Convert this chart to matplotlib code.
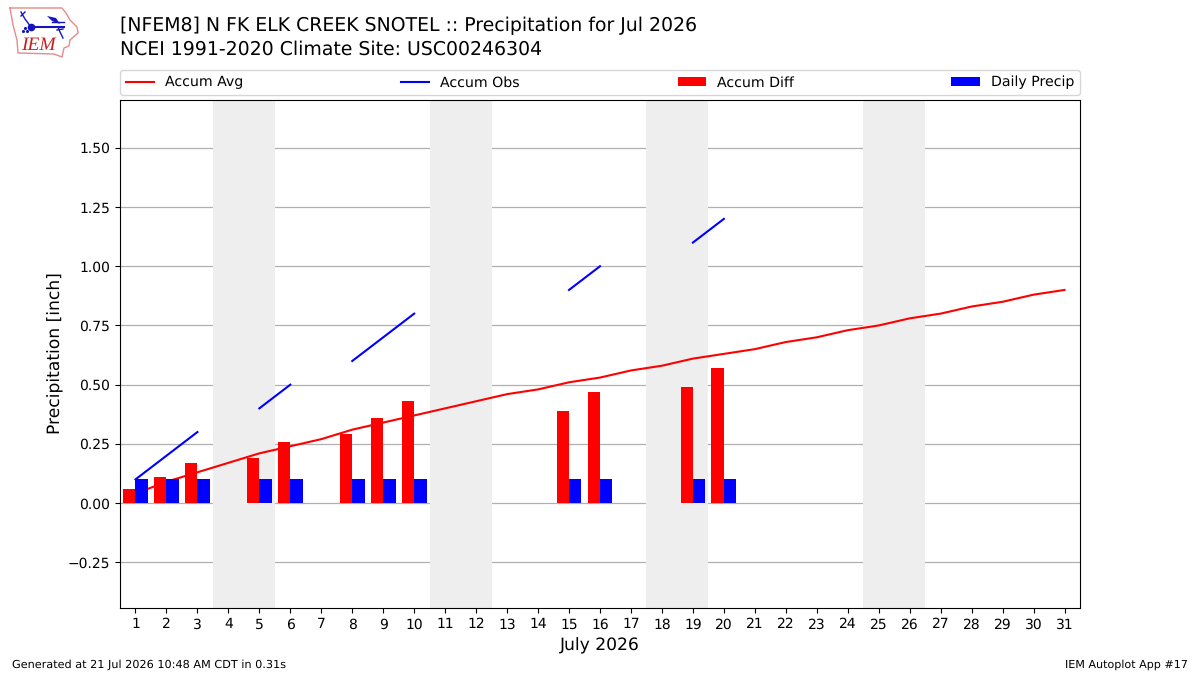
import matplotlib
matplotlib.use('Agg')
import matplotlib.pyplot as plt
import numpy as np

plt.rcParams['text.hinting'] = 'no_hinting'
plt.rcParams['text.hinting_factor'] = 8

days = list(range(1, 32))
accum_avg = [0.04, 0.09, 0.13, 0.17, 0.21, 0.24, 0.27, 0.31, 0.34, 0.37, 0.40,
             0.43, 0.46, 0.48, 0.51, 0.53, 0.56, 0.58, 0.61, 0.63, 0.65, 0.68,
             0.70, 0.73, 0.75, 0.78, 0.80, 0.83, 0.85, 0.88, 0.90]
nan = float('nan')
accum_obs = [0.1, 0.2, 0.3, nan, 0.4, 0.5, nan, 0.6, 0.7, 0.8, nan, nan, nan,
             nan, 0.9, 1.0, nan, nan, 1.1, 1.2, nan, nan, nan, nan, nan, nan,
             nan, nan, nan, nan, nan]
precip_days = [1, 2, 3, 5, 6, 8, 9, 10, 15, 16, 19, 20]
daily_precip = [0.1] * 12
accum_diff = [0.06, 0.11, 0.17, 0.19, 0.26, 0.29, 0.36, 0.43, 0.39, 0.47, 0.49, 0.57]
weekends = [(3.5, 5.5), (10.5, 12.5), (17.5, 19.5), (24.5, 26.5)]
yticks = [-0.25, 0, 0.25, 0.5, 0.75, 1.0, 1.25, 1.5]

# logo outline and vane, in logo pixels
state_x = [10, 37, 62, 66, 70, 77, 78, 70, 69, 64, 62, 54, 18, 17, 13, 10]
state_y = [8, 8, 8, 13, 20, 27, 33, 40, 46, 48, 57, 54, 53, 40, 25, 8]

fig = plt.figure(figsize=(12, 6.75), dpi=100)
ax = fig.add_axes([120 / 1200, 1 - 608 / 675, 960 / 1200, 508 / 675])

for start, end in weekends:
    ax.axvspan(start, end, color='#eeeeee', zorder=1, lw=0)

ax.bar([d - 0.2 for d in precip_days], accum_diff, width=0.4, color='red',
       label='Accum Diff', zorder=3)
ax.bar([d + 0.2 for d in precip_days], daily_precip, width=0.4, color='blue',
       label='Daily Precip', zorder=3)
ax.plot(days, accum_avg, color='red', lw=1.5, label='Accum Avg', zorder=2)
ax.plot(days, accum_obs, color='blue', lw=1.5, label='Accum Obs', zorder=2)

ax.set_xlim(0.5, 31.5)
ax.set_ylim(-0.443, 1.702)
ax.set_xticks(days)
ax.set_yticks(yticks)
ax.tick_params(axis='both', labelsize=10)
ax.grid(True, axis='y', color='#b0b0b0', lw=0.9, zorder=1)
ax.set_axisbelow(True)
ax.set_xlabel('July 2026', fontsize=12.3, labelpad=4.5)
ax.set_ylabel('Precipitation [inch]', fontsize=12.3)
ax.yaxis.set_label_coords(-0.058, 0.502)

handles, labels = ax.get_legend_handles_labels()
order = [labels.index(n) for n in ['Accum Avg', 'Accum Obs', 'Accum Diff', 'Daily Precip']]
ax.legend([handles[i] for i in order], [labels[i] for i in order], ncol=4,
          mode='expand', loc='lower left', bbox_to_anchor=(0, 1.0098, 1, 0.05),
          borderaxespad=0, fontsize=10.15)

fig.text(120 / 1200, 1 - 26 / 675, '[NFEM8] N FK ELK CREEK SNOTEL :: Precipitation for Jul 2026',
         fontsize=13.6, va='center')
fig.text(120 / 1200, 1 - 49 / 675, 'NCEI 1991-2020 Climate Site: USC00246304',
         fontsize=13.6, va='center')
fig.text(12 / 1200, 1 - 665 / 675, 'Generated at 21 Jul 2026 10:48 AM CDT in 0.31s',
         fontsize=8.14, va='center')
fig.text(1188 / 1200, 1 - 665 / 675, 'IEM Autoplot App #17', fontsize=8.05, va='center', ha='right')

# IEM logo drawn over the figure in pixel coordinates
logo = fig.add_axes([0, 1 - 60 / 675, 90 / 1200, 60 / 675])
logo.set_xlim(0, 90)
logo.set_ylim(60, 0)
logo.axis('off')
logo.plot(state_x, state_y, color='#e88a8a', lw=1)
logo.plot([31, 64], [27, 27], color='#1515c0', lw=1.5)
logo.plot([31], [27], 'o', color='#1515c0', ms=4.5)
logo.fill([47, 56, 60, 52], [16, 18, 24, 21], color='#1515c0', lw=0)
logo.plot([52, 64], [22, 22], color='#1515c0', lw=1)
logo.plot([21, 25, 31], [12, 19, 27], color='#1515c0', lw=1)
logo.plot([21, 25], [16, 12], color='#1515c0', lw=1)
logo.plot([23, 25, 27], [31, 28, 31], '.', color='#1515c0', ms=2.5)
logo.plot([58, 60, 63], [27, 32, 38], color='#1515c0', lw=1)
logo.plot([57, 63], [30, 29], color='#1515c0', lw=1)
logo.text(21, 45, 'IEM', color='#c82020', fontsize=14, style='italic',
          family='Liberation Serif', va='center')

fig.savefig('out.png', dpi=100)
